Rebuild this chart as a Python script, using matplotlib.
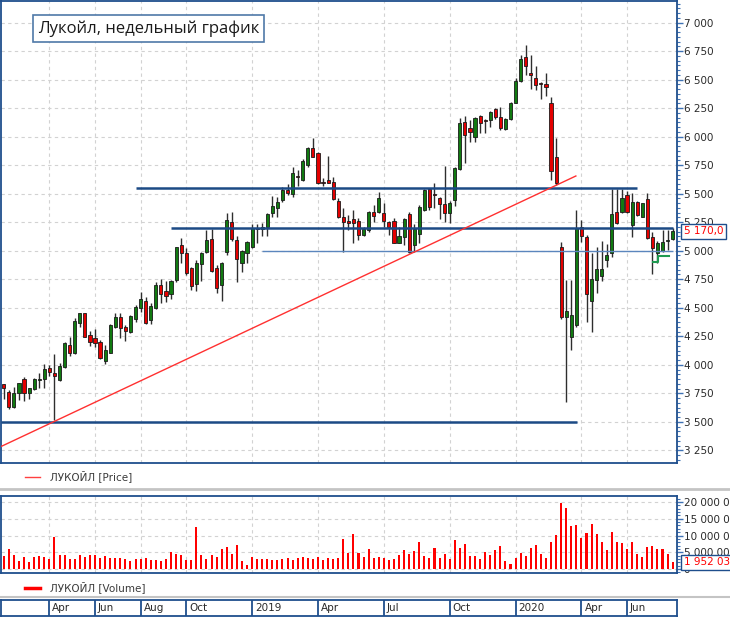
import matplotlib
matplotlib.use("Agg")
import matplotlib.pyplot as plt
import matplotlib.ticker as mticker
import numpy as np

# ---------------- data ----------------
opens = [3830,3764,3632,3755,3872,3749,3784,3870,3872,3968,
         3928,3866,3983,4173,4106,4369,4450,4261,4231,4202,
         4036,4106,4328,4421,4328,4290,4401,4494,4562,4392,
         4494,4699,4649,4620,4743,5050,4983,4845,4708,4883,
         4992,5099,4845,4699,4992,5254,5094,4895,4983,5035,
         5196,5190,5205,5333,5371,5444,5532,5497,5655,5620,
         5751,5897,5853,5596,5620,5605,5439,5298,5263,5274,
         5263,5137,5181,5341,5341,5327,5248,5263,5070,5122,
         5321,5050,5146,5356,5537,5490,5458,5409,5333,5444,
         5713,6131,6072,5993,6180,6140,6145,6239,6168,6063,
         6151,6297,6490,6700,6560,6510,6464,6461,6297,5818,
         5029,4415,4246,4348,5204,5122,4561,4743,4778,4918,
         4976,5342,5342,5488,5225,5429,5298,5450,5122,4982,
         5000,5085,5099]
highs = [3835,3778,3808,3843,3895,3799,3881,3930,4006,3998,
         4094,4012,4202,4246,4407,4450,4450,4299,4313,4217,
         4173,4357,4456,4456,4348,4436,4524,4640,4597,4538,
         4728,4751,4734,4743,5035,5108,5021,4860,4918,4992,
         5181,5187,4875,4904,5327,5342,5129,5006,5085,5231,
         5231,5240,5327,5479,5474,5555,5585,5731,5707,5801,
         5912,5985,5868,5634,5830,5649,5459,5371,5312,5356,
         5283,5210,5347,5400,5517,5415,5263,5283,5210,5289,
         5341,5230,5400,5537,5546,5590,5467,5742,5438,5730,
         6160,6180,6145,6168,6189,6151,6227,6247,6256,6160,
         6306,6510,6715,6802,6715,6618,6481,6554,6344,5984,
         5076,4742,4742,5356,5268,5137,4976,5035,5087,5058,
         5537,5537,5537,5526,5502,5438,5421,5502,5166,5087,
         5181,5181,5195]
lows = [3700,3612,3618,3691,3682,3697,3778,3799,3793,3904,
        3520,3860,3968,4077,4091,4334,4240,4164,4158,4047,
        4006,4100,4319,4231,4211,4281,4378,4465,4357,4357,
        4489,4544,4553,4573,4728,4895,4787,4655,4650,4737,
        4983,4816,4626,4562,4962,5088,4728,4816,4889,5021,
        5065,5129,5129,5292,5292,5430,5488,5474,5567,5614,
        5737,5818,5585,5567,5590,5444,5284,4992,5181,5064,
        5093,5128,5166,5254,5327,5210,5137,5064,5064,5050,
        4982,4985,5064,5350,5356,5371,5274,5254,5245,5391,
        5707,5771,5955,5955,6028,6034,6087,6151,6057,6057,
        6145,6291,6481,6539,6414,6408,6326,6355,5619,5575,
        4406,3676,4129,4328,5079,4377,4290,4626,4737,4854,
        4941,5233,5333,5333,5122,5304,5292,5099,4795,4894,
        4991,5006,5094]
closes = [3800,3627,3755,3837,3749,3793,3872,3875,3960,3939,
          3904,3989,4188,4100,4386,4450,4246,4202,4193,4056,
          4129,4348,4421,4319,4299,4427,4503,4576,4369,4515,
          4699,4620,4605,4737,5029,4983,4802,4690,4895,4983,
          5094,4825,4670,4895,5269,5100,4924,5000,5076,5196,
          5190,5210,5322,5392,5430,5532,5503,5678,5650,5789,
          5897,5824,5590,5590,5593,5450,5292,5254,5239,5245,
          5137,5187,5341,5300,5458,5263,5210,5070,5128,5280,
          4991,5190,5385,5531,5380,5486,5409,5333,5420,5721,
          6116,6014,6043,6160,6122,6134,6218,6168,6072,6151,
          6297,6490,6677,6618,6540,6452,6458,6437,5701,5590,
          4415,4474,4436,5195,5128,4620,4748,4836,4836,4959,
          5321,5239,5458,5342,5429,5312,5415,5108,5020,5070,
          5079,5093,5170]
volumes_m = [3.86,5.84,4.16,2.48,3.47,2.08,3.47,3.76,3.56,2.97,
             9.70,4.06,4.06,2.87,2.97,4.06,3.56,4.06,4.06,3.27,
             3.76,3.37,3.27,3.37,2.97,2.38,2.97,2.97,3.17,2.77,
             2.77,2.38,2.87,4.95,4.36,4.06,2.67,2.67,12.67,4.06,
             3.07,4.06,3.56,5.84,6.44,4.46,7.03,2.38,1.09,3.47,
             2.97,3.07,3.07,2.77,2.77,2.87,3.17,2.77,3.27,3.47,
             3.27,2.97,3.66,2.67,3.17,3.07,3.17,9.11,4.65,10.6,
             4.85,3.47,5.84,3.37,3.56,3.27,2.67,2.97,4.16,5.64,
             4.46,5.35,7.92,3.86,3.27,6.14,3.17,4.36,2.97,8.81,
             6.14,7.33,3.86,3.86,2.97,4.95,4.16,5.54,6.73,2.38,
             1.39,3.17,4.65,3.86,6.14,7.03,4.46,3.17,7.92,10.3,
             19.7,18.2,12.97,13.27,9.21,10.89,13.56,10.59,7.92,5.64,
             11.19,7.92,7.62,5.84,7.92,4.36,3.56,6.44,6.73,5.94,
             5.84,4.36,1.952033]

month_idx = [9, 18, 27, 36, 49, 62, 75, 88, 101, 114, 123]
month_labels = ["Apr", "Jun", "Aug", "Oct", "2019", "Apr", "Jul", "Oct", "2020", "Apr", "Jun"]

# horizontal support levels: level, start index, end index
level_vals = [5550, 5200, 5000, 3500]
level_start = [26.0, 32.9, 51.0, -0.65]
level_end = [125.0, 132.0, 132.0, 113.1]
level_lw = [1.8, 1.8, 1.0, 1.8]
level_col = ["#1c4a85", "#1c4a85", "#5b86bd", "#1c4a85"]

trend_x = [-0.65, 112.9]
trend_y = [3282, 5655]

marker_x = [128.2, 129.2, 129.2, 131.2]
marker_y = [4898, 4898, 4953, 4953]

last_price_label = "5 170,0"
last_volume_label = "1 952 033"

# ---------------- layout ----------------
W, H = 730, 619
fig = plt.figure(figsize=(W / 100, H / 100), dpi=100)
fig.patch.set_facecolor("white")

def rect(x0, y0, x1, y1):
    return [x0 / W, 1 - y1 / H, (x1 - x0) / W, (y1 - y0) / H]

BLUE = "#1f4e8c"
TICKBLUE = "#3f72b5"
GRID = "#d2d2d2"
TXT = "#2a2a2a"
FONT = 7.5

n = len(opens)
x = np.arange(n)
XL = (-0.65, 132.8)

ax = fig.add_axes(rect(0.5, 0.5, 676.7, 463.3))
av = fig.add_axes(rect(0.5, 496, 676.7, 573.3))
axs = fig.add_axes(rect(0.5, 600, 676.7, 616))

def yfmt(v, pos):
    return f"{int(round(v)):,}".replace(",", " ")

for a in (ax, av):
    a.set_xlim(*XL)
    for s in a.spines.values():
        s.set_color(BLUE)
        s.set_linewidth(1.3)
    a.yaxis.tick_right()
    a.set_xticks(month_idx)
    a.tick_params(axis="x", length=0, labelbottom=False)
    a.tick_params(axis="y", which="major", length=4, width=1, color=TICKBLUE,
                  labelsize=FONT, labelcolor=TXT, pad=1)
    a.tick_params(axis="y", which="minor", length=2, width=0.8, color=TICKBLUE)
    a.grid(True, which="major", color=GRID, linestyle=(0, (3, 3)), linewidth=0.8)
    a.set_axisbelow(True)
    a.yaxis.set_major_formatter(mticker.FuncFormatter(yfmt))

# ---- price panel ----
ax.set_ylim(3137, 7193)
ax.yaxis.set_major_locator(mticker.MultipleLocator(250))
ax.yaxis.set_minor_locator(mticker.AutoMinorLocator(6))

o = np.array(opens, float); c = np.array(closes, float)
hi = np.array(highs, float); lo = np.array(lows, float)
up = c >= o
body_bot = np.minimum(o, c)
body_h = np.maximum(np.abs(c - o), 9)
ax.vlines(x, lo, hi, color="#2e2e2e", linewidth=1.0, zorder=3)
ax.bar(x, body_h, bottom=body_bot, width=0.62,
       color=np.where(up, "#117a11", "#e40000"),
       edgecolor="#1a1a1a", linewidth=0.6, zorder=4)

for lv, xs, xe, lw, col in zip(level_vals, level_start, level_end, level_lw, level_col):
    ax.hlines(lv, xs, xe, color=col, linewidth=lw, zorder=5)

ax.plot(trend_x, trend_y, color="#ff3030", linewidth=1.0, zorder=5)
ax.plot(marker_x, marker_y, color="#1e9a50", linewidth=1.5, zorder=6)

ax.text(1.0105, closes[-1], last_price_label, transform=ax.get_yaxis_transform(),
        ha="left", va="center", fontsize=FONT, color="#ff0000", zorder=10,
        bbox=dict(boxstyle="square,pad=0.25", fc="white", ec=BLUE, lw=1.0),
        clip_on=False)

# ---- volume panel ----
vol = np.array(volumes_m) * 1e6
av.set_ylim(-1.28e6, 21.8e6)
av.set_yticks([0, 5e6, 10e6, 15e6, 20e6])
av.yaxis.set_minor_locator(mticker.MultipleLocator(1e6))
av.bar(x, vol, width=0.4, color="#ff0000", zorder=3)
av.text(1.0105, vol[-1], last_volume_label, transform=av.get_yaxis_transform(),
        ha="left", va="center", fontsize=FONT, color="#ff0000", zorder=10,
        bbox=dict(boxstyle="square,pad=0.25", fc="white", ec=BLUE, lw=1.0),
        clip_on=False)

# ---- month strip ----
axs.set_xlim(*XL)
axs.set_ylim(0, 1)
axs.set_xticks([]); axs.set_yticks([])
for s in axs.spines.values():
    s.set_color(BLUE)
    s.set_linewidth(1.3)
axs.vlines(month_idx, 0, 1, color=BLUE, linewidth=1.3)
for mi, lab in zip(month_idx, month_labels):
    axs.annotate(lab, (mi, 0.5), xytext=(3, 0), textcoords="offset pixels",
                 ha="left", va="center", fontsize=FONT, color=TXT)

# ---- overlay: legends, separators, title ----
ov = fig.add_axes([0, 0, 1, 1], zorder=20)
ov.set_xlim(0, W); ov.set_ylim(H, 0)
ov.axis("off")
ov.plot([0, W], [488.5, 488.5], color="#c4c4c4", linewidth=2)
ov.plot([0, W], [596.5, 596.5], color="#c4c4c4", linewidth=1.5)
ov.plot([25, 40], [476.5, 476.5], color="#ff4040", linewidth=1.0)
ov.text(50, 476.5, "ЛУКОЙЛ [Price]", fontsize=FONT, color="#3a3a3a", va="center", ha="left")
ov.plot([25, 40], [587.5, 587.5], color="#ff0000", linewidth=2.5)
ov.text(50, 587.5, "ЛУКОЙЛ [Volume]", fontsize=FONT, color="#3a3a3a", va="center", ha="left")
ov.text(38, 28.5, "Лукойл, недельный график", fontsize=12, color="#1a1a1a",
        family=["Open Sans", "DejaVu Sans"], va="center", ha="left",
        bbox=dict(boxstyle="square,pad=0.3", fc="white", ec="#4f79a8", lw=1.2))

fig.savefig("out.png", dpi=100)
